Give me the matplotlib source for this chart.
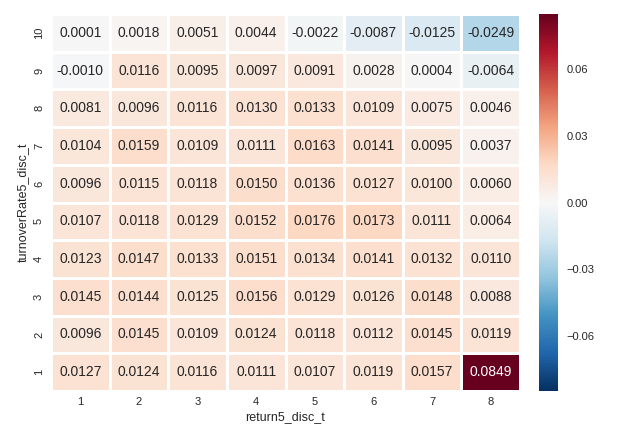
import matplotlib
matplotlib.use("Agg")
import matplotlib.pyplot as plt
import numpy as np
import pandas as pd
import seaborn as sns
from matplotlib.ticker import FixedLocator, FuncFormatter

plt.rcParams['font.family'] = ['Liberation Sans', 'DejaVu Sans']

x_labels = [1, 2, 3, 4, 5, 6, 7, 8]
y_labels = [10, 9, 8, 7, 6, 5, 4, 3, 2, 1]

row10 = [0.0001, 0.0018, 0.0051, 0.0044, -0.0022, -0.0087, -0.0125, -0.0249]
row9 = [-0.0010, 0.0116, 0.0095, 0.0097, 0.0091, 0.0028, 0.0004, -0.0064]
row8 = [0.0081, 0.0096, 0.0116, 0.0130, 0.0133, 0.0109, 0.0075, 0.0046]
row7 = [0.0104, 0.0159, 0.0109, 0.0111, 0.0163, 0.0141, 0.0095, 0.0037]
row6 = [0.0096, 0.0115, 0.0118, 0.0150, 0.0136, 0.0127, 0.0100, 0.0060]
row5 = [0.0107, 0.0118, 0.0129, 0.0152, 0.0176, 0.0173, 0.0111, 0.0064]
row4 = [0.0123, 0.0147, 0.0133, 0.0151, 0.0134, 0.0141, 0.0132, 0.0110]
row3 = [0.0145, 0.0144, 0.0125, 0.0156, 0.0129, 0.0126, 0.0148, 0.0088]
row2 = [0.0096, 0.0145, 0.0109, 0.0124, 0.0118, 0.0112, 0.0145, 0.0119]
row1 = [0.0127, 0.0124, 0.0116, 0.0111, 0.0107, 0.0119, 0.0157, 0.0849]

cbar_ticks = [-0.06, -0.03, 0.0, 0.03, 0.06]

df = pd.DataFrame([row10, row9, row8, row7, row6, row5, row4, row3, row2, row1],
                  index=y_labels, columns=x_labels)
vmax = float(np.abs(df.values).max())

fig = plt.figure(figsize=(6.4, 4.4), dpi=100)
ax = fig.add_axes([51/640, 1-391/440, (520-51)/640, (391-14)/440])
cax = fig.add_axes([539/640, 1-391/440, (558-539)/640, (391-14)/440])

sns.heatmap(df, ax=ax, cbar_ax=cax, cmap="RdBu_r", center=0, vmin=-vmax, vmax=vmax,
            annot=True, fmt=".4f", linewidths=0.75, linecolor="white",
            annot_kws={"fontsize": 10})

text_col = "#262626"
ax.set_xlabel("return5_disc_t", fontsize=9, color=text_col, labelpad=3)
ax.set_ylabel("turnoverRate5_disc_t", fontsize=9, color=text_col)
ax.tick_params(axis='x', length=0, labelsize=8, labelcolor=text_col, pad=4)
ax.tick_params(axis='y', length=0, labelsize=8, labelcolor=text_col, pad=5)
ax.set_yticklabels([str(v) for v in y_labels], rotation=90, va='center')
ax.set_xticklabels([str(v) for v in x_labels], rotation=0)

cax.yaxis.set_major_locator(FixedLocator(cbar_ticks))
cax.yaxis.set_major_formatter(FuncFormatter(lambda v, p: ("%.2f" % v).replace("-", "\u2212") if abs(v) > 1e-9 else "0.00"))
cax.tick_params(length=0, labelsize=8, labelcolor=text_col, pad=6)
for s in cax.spines.values():
    s.set_visible(False)

fig.savefig("out.png", dpi=100)
